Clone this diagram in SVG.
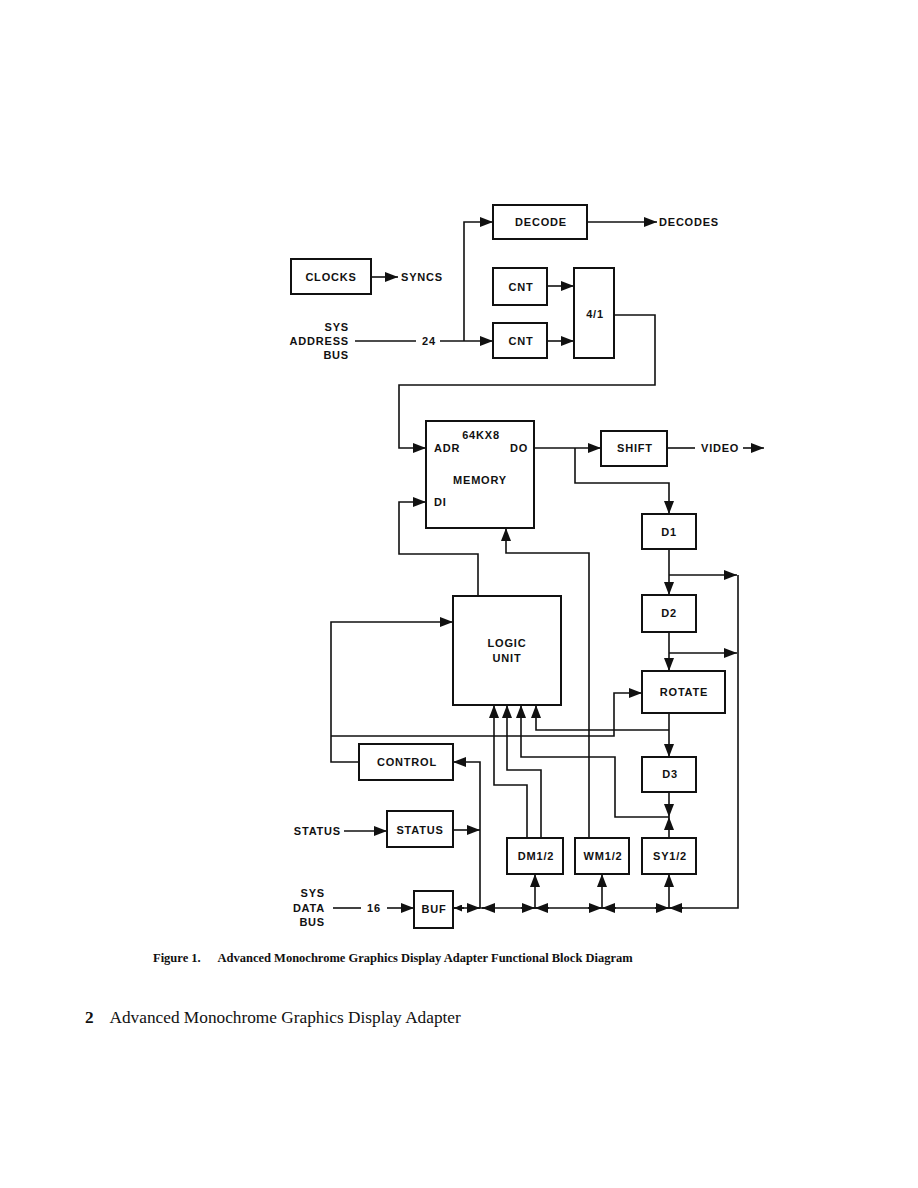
<svg xmlns="http://www.w3.org/2000/svg" width="918" height="1188" viewBox="0 0 918 1188">
<style>
.box{fill:#fff;stroke:#111;stroke-width:2}
.ln{fill:none;stroke:#111;stroke-width:1.6}
.ar{fill:none;stroke:#111;stroke-width:1.6;marker-end:url(#ah)}
.as{fill:none;stroke:#111;stroke-width:1.6;marker-end:url(#ahs)}
text{font-family:"Liberation Sans",Arial,sans-serif;font-weight:bold;font-size:11px;letter-spacing:0.8px;fill:#111}
.c{text-anchor:middle;dominant-baseline:central}
.l{text-anchor:start;dominant-baseline:central}
.r{text-anchor:end;dominant-baseline:central}
.cap{font-family:"Liberation Serif","Times New Roman",serif;letter-spacing:0;font-size:12.5px;font-weight:bold}
.ftr{font-family:"Liberation Serif","Times New Roman",serif;letter-spacing:0;font-size:17.3px;font-weight:normal}
</style>
<defs>
<marker id="ah" viewBox="0 0 13 10" refX="13" refY="5" markerWidth="13" markerHeight="10" markerUnits="userSpaceOnUse" orient="auto"><path d="M0,0 L13,5 L0,10 z" fill="#111"/></marker>
<marker id="ahs" viewBox="0 0 8 7" refX="8" refY="3.5" markerWidth="8" markerHeight="7" markerUnits="userSpaceOnUse" orient="auto"><path d="M0,0 L8,3.5 L0,7 z" fill="#111"/></marker>
</defs>
<rect width="918" height="1188" fill="#fff"/>

<g id="connectors">
<!-- address bus -->
<path class="ln" d="M355,341 H416"/>
<path class="ar" d="M440,341 H493"/>
<path class="ar" d="M464,341 V222 H493"/>
<path class="ar" d="M587,222 H657"/>
<path class="ar" d="M371,277 H398"/>
<path class="ar" d="M547,286 H574"/>
<path class="ar" d="M547,341 H574"/>
<!-- mux to memory adr -->
<path class="ar" d="M614,315 H655 V385 H399 V448 H426"/>
<!-- memory DO -->
<path class="ar" d="M534,448 H601"/>
<path class="ar" d="M575,448 V483 H669 V514"/>
<path class="ln" d="M667,448 H695"/>
<path class="ar" d="M743,448 H764"/>
<!-- logic to DI -->
<path class="ar" d="M478,596 V554 H399 V502 H426"/>
<!-- WM to memory -->
<path class="ar" d="M589,838 V553 H506 V528"/>
<!-- right column -->
<path class="ar" d="M669,549 V595"/>
<path class="ar" d="M669,575 H737"/>
<path class="ar" d="M669,632 V671"/>
<path class="ar" d="M669,653 H737"/>
<path class="ln" d="M738,575 V908 H454"/>
<path class="ar" d="M669,713 V757"/>
<path class="ar" d="M669,730 H536 V705"/>
<!-- control -->
<path class="ar" d="M359,762 H331 V622 H453"/>
<path class="ar" d="M331,736 H614 V693 H642"/>
<path class="ar" d="M480,908 V762 H453"/>
<path class="ar" d="M453,830 H480"/>
<path class="ar" d="M344,831 H387"/>
<!-- sys data bus -->
<path class="ln" d="M333,908 H361"/>
<path class="ar" d="M387,908 H414"/>
<!-- DM to logic -->
<path class="ar" d="M527,838 V785 H494 V705"/>
<path class="ar" d="M541,838 V770 H507 V705"/>
<!-- D3/SY to logic -->
<path class="ar" d="M669,817 H615 V757 H521 V705"/>
<path class="ar" d="M669,792 V817"/>
<path class="ar" d="M669,838 V817"/>
<!-- bus to registers -->
<path class="ar" d="M535,908 V874"/>
<path class="ar" d="M602,908 V874"/>
<path class="ar" d="M669,908 V874"/>
<!-- bus arrowheads -->
<path class="as" d="M464,908 H454"/>
<path class="ar" d="M467,908 H480"/>
<path class="ar" d="M495,908 H482"/>
<path class="ar" d="M521,908 H535"/>
<path class="ar" d="M549,908 H535"/>
<path class="ar" d="M588,908 H602"/>
<path class="ar" d="M616,908 H602"/>
<path class="ar" d="M655,908 H669"/>
<path class="ar" d="M683,908 H669"/>
</g>

<g id="labels">
<text class="l" x="659" y="222">DECODES</text>
<text class="l" x="401" y="277">SYNCS</text>
<text class="r" x="349" y="327">SYS</text>
<text class="r" x="349" y="341">ADDRESS</text>
<text class="r" x="349" y="355">BUS</text>
<text class="c" x="429" y="341">24</text>
<text class="l" x="701" y="448">VIDEO</text>
<text class="r" x="341" y="831">STATUS</text>
<text class="r" x="325" y="893">SYS</text>
<text class="r" x="325" y="908">DATA</text>
<text class="r" x="325" y="922">BUS</text>
<text class="c" x="374" y="908">16</text>
</g>

<g id="decode"><rect class="box" x="493" y="205" width="94" height="34"/><text class="c" x="541" y="222">DECODE</text></g>
<g id="clocks"><rect class="box" x="291" y="259" width="80" height="35"/><text class="c" x="331" y="277">CLOCKS</text></g>
<g id="cnt1"><rect class="box" x="493" y="268" width="54" height="37"/><text class="c" x="521" y="287">CNT</text></g>
<g id="cnt2"><rect class="box" x="493" y="323" width="54" height="35"/><text class="c" x="521" y="341">CNT</text></g>
<g id="mux"><rect class="box" x="574" y="268" width="40" height="90"/><text class="c" x="595" y="314">4/1</text></g>
<g id="memory"><rect class="box" x="426" y="421" width="108" height="107"/>
<text class="c" x="481" y="435">64KX8</text>
<text class="l" x="434" y="448">ADR</text>
<text class="r" x="528" y="448">DO</text>
<text class="c" x="480" y="480">MEMORY</text>
<text class="l" x="434" y="502">DI</text></g>
<g id="shift"><rect class="box" x="601" y="431" width="66" height="35"/><text class="c" x="635" y="448">SHIFT</text></g>
<g id="d1"><rect class="box" x="642" y="514" width="54" height="35"/><text class="c" x="669" y="532">D1</text></g>
<g id="d2"><rect class="box" x="642" y="595" width="54" height="37"/><text class="c" x="669" y="613">D2</text></g>
<g id="rotate"><rect class="box" x="642" y="671" width="83" height="42"/><text class="c" x="684" y="692">ROTATE</text></g>
<g id="logic"><rect class="box" x="453" y="596" width="108" height="109"/><text class="c" x="507" y="643">LOGIC</text><text class="c" x="507" y="658">UNIT</text></g>
<g id="control"><rect class="box" x="359" y="744" width="94" height="36"/><text class="c" x="407" y="762">CONTROL</text></g>
<g id="d3"><rect class="box" x="642" y="757" width="54" height="35"/><text class="c" x="670" y="774">D3</text></g>
<g id="status"><rect class="box" x="387" y="811" width="66" height="36"/><text class="c" x="420" y="830">STATUS</text></g>
<g id="dm"><rect class="box" x="507" y="838" width="56" height="36"/><text class="c" x="536" y="856">DM1/2</text></g>
<g id="wm"><rect class="box" x="575" y="838" width="54" height="36"/><text class="c" x="603" y="856">WM1/2</text></g>
<g id="sy"><rect class="box" x="642" y="838" width="54" height="36"/><text class="c" x="670" y="856">SY1/2</text></g>
<g id="buf"><rect class="box" x="414" y="891" width="39" height="37"/><text class="c" x="434" y="909">BUF</text></g>

<g id="caption">
<text class="cap" x="153" y="962">Figure  1.</text>
<text class="cap" x="217.5" y="962">Advanced Monochrome Graphics Display Adapter Functional Block Diagram</text>
<text class="ftr" x="85" y="1023" font-weight="bold" style="font-weight:bold">2</text>
<text class="ftr" x="109.5" y="1023">Advanced Monochrome Graphics Display Adapter</text>
</g>
</svg>
